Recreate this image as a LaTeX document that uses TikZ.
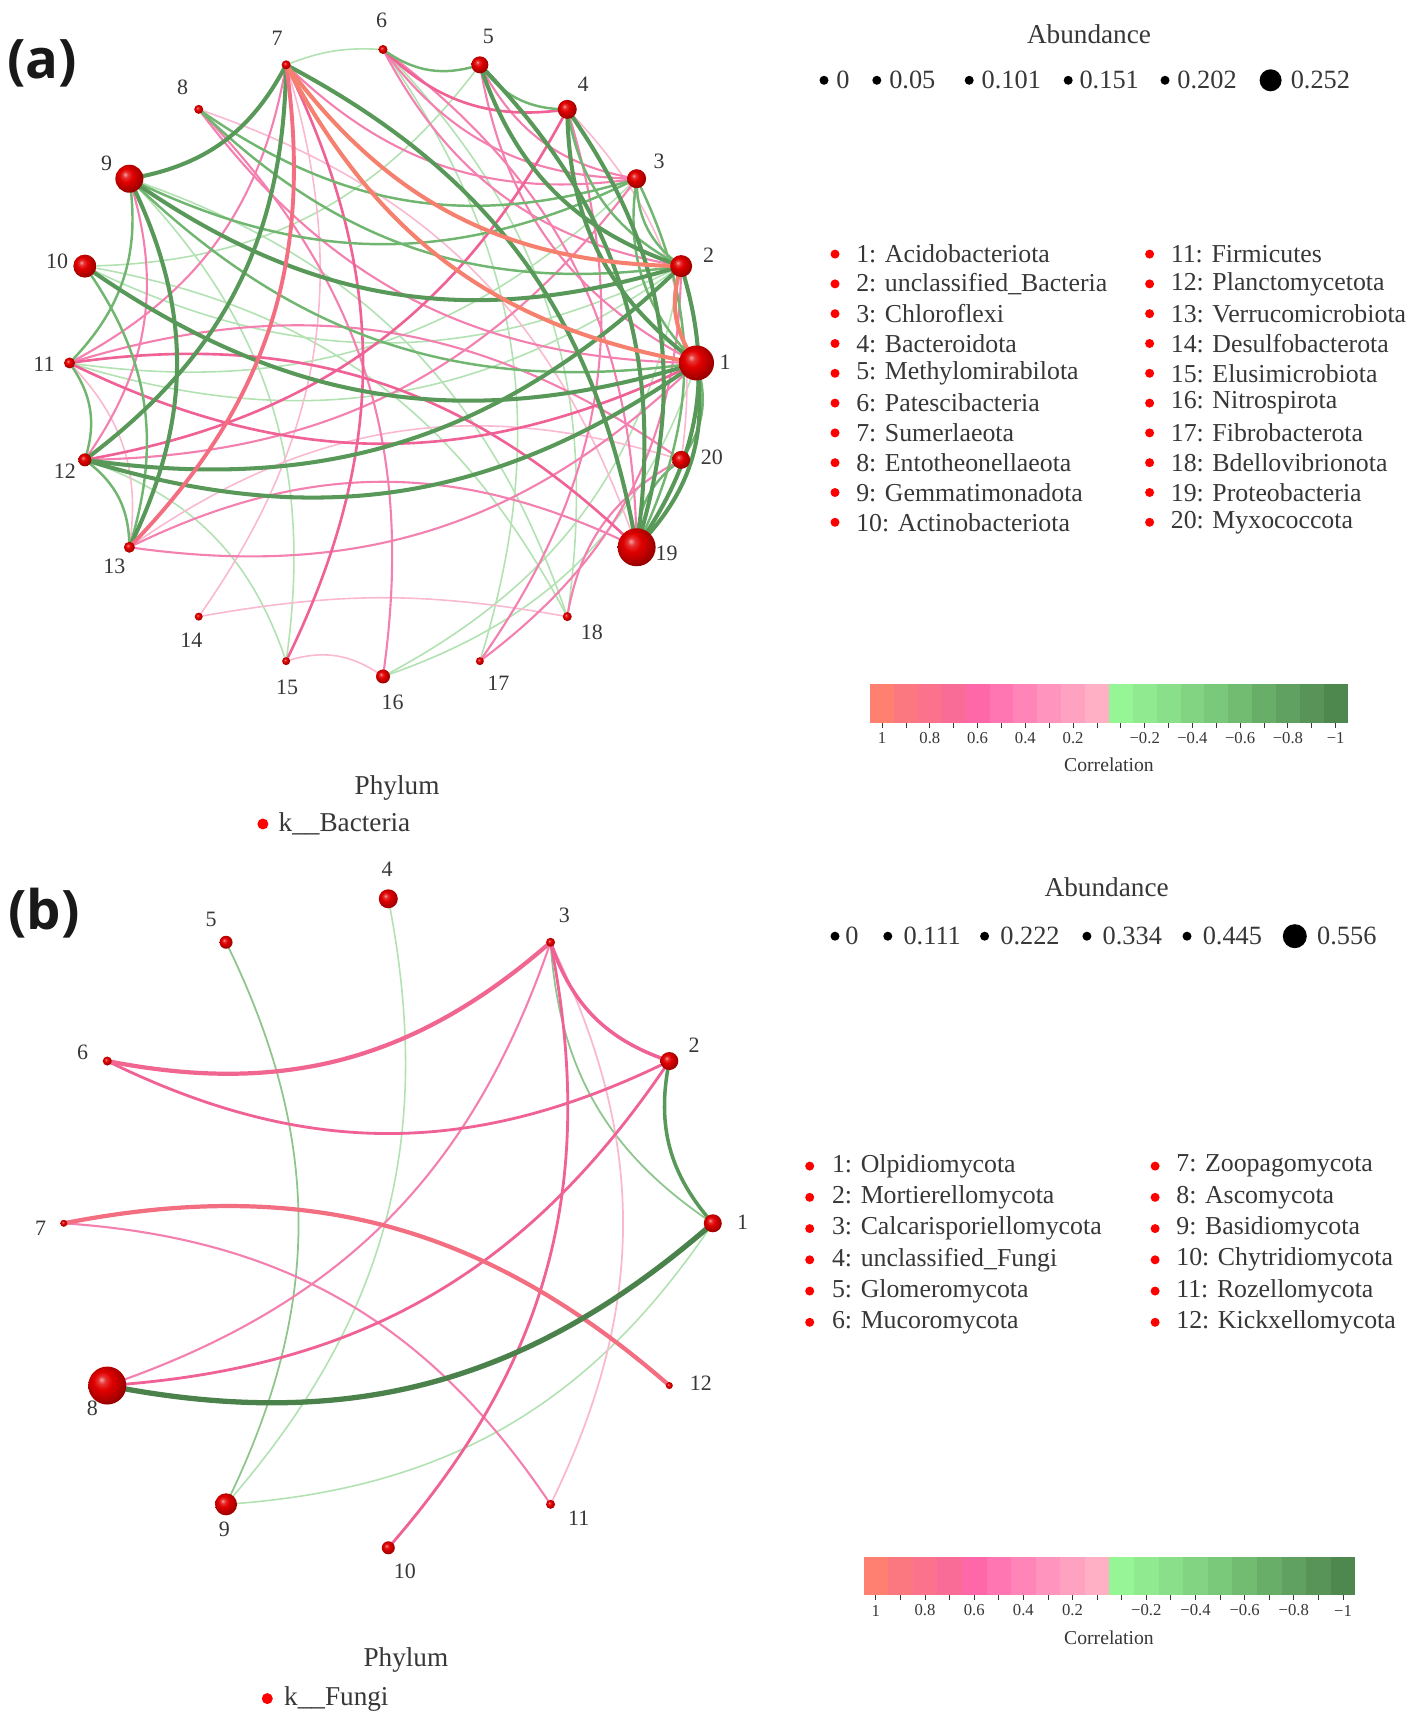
\documentclass[tikz,border=0pt]{standalone}
\usepackage{fontspec}
\setmainfont{Liberation Serif}
\newfontfamily\panelfont{Open Sans}
\definecolor{cSal}{RGB}{246,128,110}
\definecolor{cRP}{RGB}{242,110,128}
\definecolor{cDG}{RGB}{88,152,88}
\definecolor{cG}{RGB}{112,182,112}
\definecolor{cLG}{RGB}{178,226,178}
\definecolor{cP}{RGB}{240,98,150}
\definecolor{cPM}{RGB}{244,128,176}
\definecolor{cLP}{RGB}{250,185,208}
\definecolor{cTxt}{RGB}{55,55,55}
\definecolor{cSph}{RGB}{225,0,0}
\pgfdeclareradialshading{mysph}{\pgfqpoint{-8bp}{8bp}}{color(0bp)=(cSph!35!white); color(5bp)=(cSph!80!white); color(12bp)=(cSph); color(22bp)=(cSph!80!black); color(34bp)=(cSph!55!black); color(50bp)=(cSph!40!black)}
\newcommand\colbar[4]{%
  \foreach \ii/\cR/\cG/\cB in {0/255/128/112,1/252/120/128,2/250/114/140,3/250/108/152,4/255/104/168,5/255/118/178,6/255/132/184,7/255/148/190,8/255/162/194,9/255/176/196,10/150/246/150,11/144/234/144,12/138/224/138,13/130/212/130,14/122/200/122,15/114/188/114,16/104/174/104,17/96/160/96,18/88/148/88,19/78/136/78}{%
    \definecolor{cbtmp}{RGB}{\cR,\cG,\cB}
    \fill[cbtmp] ({#1+\ii*#3},#2) rectangle ({#1+(\ii+1)*#3},{#2+38.5});
    \draw[tickln] ({#1+(\ii+0.5)*#3},#2) -- ++(0,-5);
  }
  \foreach \ii/\tt in {0/1,2/0.8,4/0.6,6/0.4,8/0.2,11/−0.2,13/−0.4,15/−0.6,17/−0.8,19/−1}{%
    \node[ticktxt] (#4tk\ii) at ({#1+(\ii+0.5)*#3},{#2-15.4}) {\tt};
  }
}
\begin{document}
\begin{tikzpicture}[x=0.02cm,y=0.02cm,
  vert/.style={circle,inner sep=0pt,minimum size=2pt},
  sphere/.style={shading=mysph},
  numlab/.style={font=\fontsize{12.5}{14}\selectfont,text=cTxt,inner sep=0pt},
  legtxt/.style={font=\fontsize{14.7}{17}\selectfont,text=cTxt,inner sep=0pt,anchor=west},
  abtxt/.style={font=\fontsize{15}{17}\selectfont,text=cTxt,inner sep=0pt,anchor=west},
  ttl/.style={font=\fontsize{15.5}{18}\selectfont,text=cTxt,inner sep=0pt},
  ticktxt/.style={font=\fontsize{9.5}{11}\selectfont,text=cTxt,inner sep=0pt},
  cortxt/.style={font=\fontsize{11.2}{13}\selectfont,text=cTxt,inner sep=0pt},
  tickln/.style={draw=cTxt,line width=0.5pt},
  paneltxt/.style={font=\panelfont\bfseries\fontsize{31}{36}\selectfont,text=black!90,inner sep=0pt},
  eSal/.style={draw=cSal,line width=2.3pt},
  eRP/.style={draw=cRP,line width=2.2pt},
  eDG/.style={draw=cDG,line width=2.3pt},
  eG/.style={draw=cG,line width=1.4pt},
  eLG/.style={draw=cLG,line width=0.9pt},
  eP/.style={draw=cP,line width=1.5pt},
  ePM/.style={draw=cPM,line width=1.2pt},
  eLP/.style={draw=cLP,line width=0.9pt},
  reddot/.style={fill=red},
  blackdot/.style={fill=black}
]
\useasboundingbox (0,0) rectangle (1417,1725);
\fill[white] (0,0) rectangle (1417,1725);

% ---------------- Panel (a) ----------------
\foreach \k in {1,...,20}{
  \pgfmathsetmacro\ang{(\k-1)*18}
  \node[vert] (a\k) at ([shift={(383,1362)}]\ang:313.5) {};
}
\draw[eLG] (a6) to[bend right=12] (a7);
\foreach \i/\j in {5/10,2/11,2/10,3/11,10/18,9/15,2/16,6/17,12/15,1/16,9/18,6/18}
  \draw[eLG] (a\i) to[bend left=26] (a\j);
\draw[eLP] (a14) to[bend left=10] (a18);
\foreach \i/\j in {7/14,15/16,13/20,8/19,4/20,11/13}
  \draw[eLP] (a\i) to[bend left=26] (a\j);
\foreach \i/\j in {7/11,9/12,1/8,8/16,2/17,4/17,18/20,2/6,3/6,3/5,1/5,6/19,11/20,3/12,3/7,1/13,13/19}
  \draw[ePM] (a\i) to[bend left=26] (a\j);
\foreach \i/\j in {1/11,11/19,4/12,7/15,4/6}
  \draw[eP] (a\i) to[bend left=26] (a\j);
\foreach \i/\j in {3/9,1/9,2/8,3/8,2/4,1/20,19/20,5/6,10/13,12/13,11/12,3/19,2/3,4/5,9/11,1/3}
  \draw[eG] (a\i) to[bend left=26] (a\j);
\foreach \i/\j in {7/9,7/19,7/12,9/13,2/9,1/10,1/12,2/12,4/19,2/19,1/19,5/19,2/5,1/4}
  \draw[eDG] (a\i) to[bend left=26] (a\j);
\draw[eRP] (a7) to[bend left=26] (a13);
\foreach \i/\j in {2/7,1/7,1/2}
  \draw[eSal] (a\i) to[bend left=26] (a\j);
\foreach \k/\r in {1/17.5,2/11,3/9.5,4/9.5,5/8.5,6/4.5,7/4.5,8/4.5,9/14,10/11.5,11/5.5,12/6.5,13/5.5,14/4,15/4,16/7,17/4,18/4.5,19/19,20/9}
  \shade[sphere] (a\k.center) circle[radius=\r];
\foreach \k/\x/\y in {1/725/1363,2/708.5/1470,3/659/1564,4/583/1641,5/488.4/1689,6/381.7/1705,7/277.2/1686.5,8/182.6/1638,9/106.7/1562,10/57.2/1464,11/44/1361,12/64.9/1254,13/114.4/1158.5,14/191.4/1084.7,15/287.1/1037.4,16/392.7/1023,17/498.3/1041.8,18/591.8/1092.4,19/666.7/1171.6,20/711.8/1267.4}
  \node[numlab] (la\k) at (\x,\y) {\k};

\node[paneltxt] (pa) at (42,1662) {(a)};
\node[ttl] (abA) at (1089,1691) {Abundance};
\foreach \n/\dx/\tx/\rad/\lab in {1/824/836/4.5/0,2/876.8/888.9/4.5/0.05,3/969.2/981.3/4.5/0.101,4/1068.2/1079.2/4.5/0.151,5/1165/1177.1/4.5/0.202,6/1270.6/1290.4/11/0.252}{
  \fill[blackdot] (\dx,1644.7) circle[radius=\rad];
  \node[abtxt] (abA\n) at (\tx,1644.7) {\lab};
}
\foreach \n/\lab in {1/1: Acidobacteriota,2/2: unclassified\_Bacteria,3/3: Chloroflexi,4/4: Bacteroidota,5/5: Methylomirabilota,6/6: Patescibacteria,7/7: Sumerlaeota,8/8: Entotheonellaeota,9/9: Gemmatimonadota,10/10: Actinobacteriota}{
  \fill[reddot] (835,{1470.9-29.8*(\n-1)}) circle[radius=4.5];
  \node[legtxt] (lgA\n) at (855.9,{1470.9-29.8*(\n-1)}) {\lab};
}
\foreach \n/\lab in {11/11: Firmicutes,12/12: Planctomycetota,13/13: Verrucomicrobiota,14/14: Desulfobacterota,15/15: Elusimicrobiota,16/16: Nitrospirota,17/17: Fibrobacterota,18/18: Bdellovibrionota,19/19: Proteobacteria,20/20: Myxococcota}{
  \fill[reddot] (1149.6,{1470.9-29.8*(\n-11)}) circle[radius=4.5];
  \node[legtxt] (lgA\n) at (1170.5,{1470.9-29.8*(\n-11)}) {\lab};
}
\colbar{870.2}{1002.2}{23.87}{A}
\node[cortxt] (corA) at (1109,960.4) {Correlation};
\node[ttl] (phA) at (397.1,937.3) {Phylum};
\fill[reddot] (262.9,901) circle[radius=5.5];
\node[ttl,anchor=west] (kA) at (278.3,901) {k\_\_Bacteria};

% ---------------- Panel (b) ----------------
\foreach \k in {1,...,12}{
  \pgfmathsetmacro\ang{(\k-1)*30}
  \node[vert] (b\k) at ([shift={(388.3,501.7)}]\ang:324.5) {};
}
\foreach \i/\j in {4/9,1/9}
  \draw[eLG] (b\i) to[bend left=26] (b\j);
\foreach \i/\j in {5/9,1/3}
  \draw[eLG,draw=cG!80,line width=1pt] (b\i) to[bend left=26] (b\j);
\draw[eLP,line width=1pt] (b3) to[bend left=26] (b11);
\foreach \i/\j in {3/8,7/11}
  \draw[ePM] (b\i) to[bend left=26] (b\j);
\foreach \i/\j in {2/6,3/10,2/8}
  \draw[eP,line width=1.6pt] (b\i) to[bend left=26] (b\j);
\draw[eP,line width=2pt] (b2) to[bend left=26] (b3);
\draw[eP,line width=2.4pt,draw=cP!85!cSal] (b3) to[bend left=26] (b6);
\draw[eRP,line width=2.4pt] (b7) to[bend left=26] (b12);
\draw[eDG,line width=2pt] (b1) to[bend left=26] (b2);
\draw[eDG,line width=3pt,draw=cDG!85!black] (b1) to[bend left=26] (b8);
\foreach \k/\r in {1/9,2/9,3/4.5,4/9.5,5/6.5,6/4.5,7/3.5,8/19,9/11,10/6.5,11/4.5,12/3.5}
  \shade[sphere] (b\k.center) circle[radius=\r];
\foreach \k/\x/\y in {1/742.6/502.8,2/694.2/679.9,3/564.4/809.7,4/387.2/855.9,5/211.2/805.3,6/82.5/672.2,7/40.7/496.2,8/92.4/316.9,9/224.4/195.9,10/404.8/154,11/578.7/206.9,12/700.8/342.2}
  \node[numlab] (lb\k) at (\x,\y) {\k};

\node[paneltxt] (pb) at (44,812) {(b)};
\node[ttl] (abB) at (1106.7,838.3) {Abundance};
\foreach \n/\dx/\tx/\rad/\lab in {1/835/844.9/4.5/0,2/887.8/903.2/4.5/0.111,3/984.6/1000/4.5/0.222,4/1086.9/1102.3/4.5/0.334,5/1187/1202.4/4.5/0.445,6/1294.8/1316.8/12/0.556}{
  \fill[blackdot] (\dx,788.8) circle[radius=\rad];
  \node[abtxt] (abB\n) at (\tx,788.8) {\lab};
}
\foreach \n/\lab in {1/1: Olpidiomycota,2/2: Mortierellomycota,3/3: Calcarisporiellomycota,4/4: unclassified\_Fungi,5/5: Glomeromycota,6/6: Mucoromycota}{
  \fill[reddot] (809.7,{558.9-31.24*(\n-1)}) circle[radius=4.5];
  \node[legtxt] (lgB\n) at (831.7,{558.9-31.24*(\n-1)}) {\lab};
}
\foreach \n/\lab in {7/7: Zoopagomycota,8/8: Ascomycota,9/9: Basidiomycota,10/10: Chytridiomycota,11/11: Rozellomycota,12/12: Kickxellomycota}{
  \fill[reddot] (1155.1,{558.9-31.24*(\n-7)}) circle[radius=4.5];
  \node[legtxt] (lgB\n) at (1176,{558.9-31.24*(\n-7)}) {\lab};
}
\colbar{863.6}{129.9}{24.585}{B}
\node[cortxt] (corB) at (1109,87) {Correlation};
\node[ttl] (phB) at (405.9,65) {Phylum};
\fill[reddot] (267.3,26.4) circle[radius=5.5];
\node[ttl,anchor=west] (kB) at (283.8,26.4) {k\_\_Fungi};
\end{tikzpicture}
\end{document}
